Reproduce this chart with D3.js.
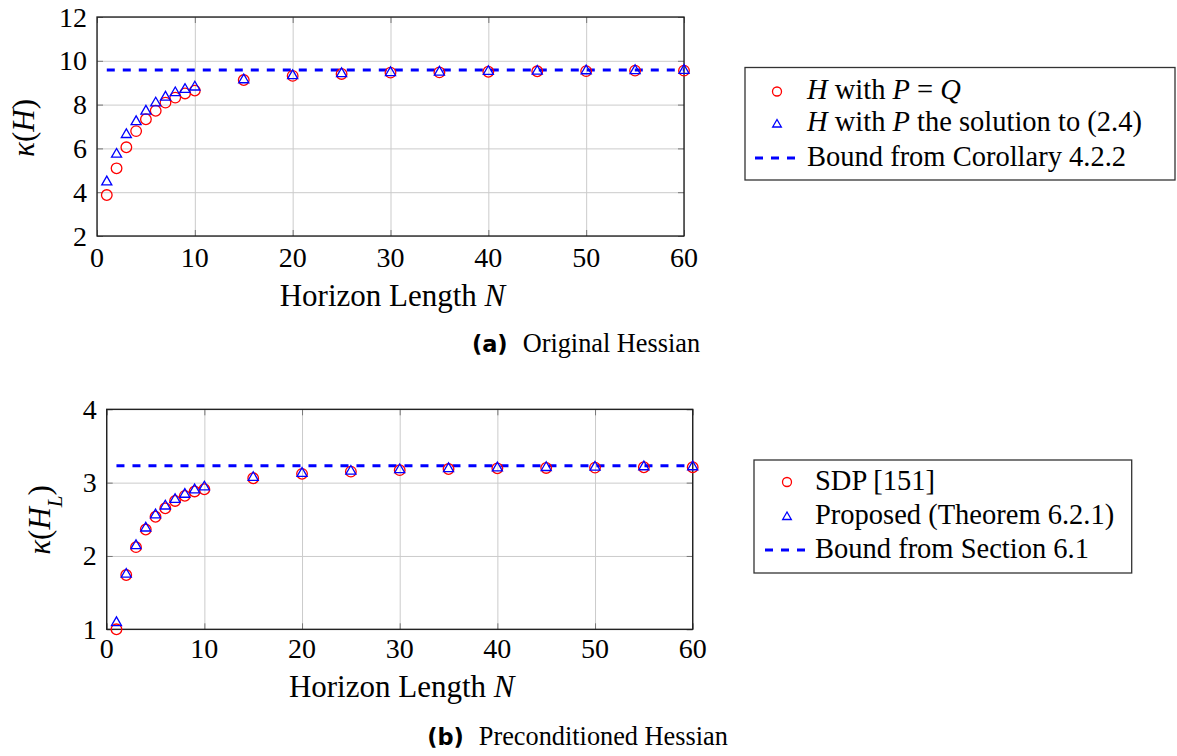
<!DOCTYPE html>
<html><head><meta charset="utf-8">
<script src="https://cdn.jsdelivr.net/npm/d3@7"></script>
<style>
html,body{margin:0;padding:0;background:#fff;}
svg text{font-family:"Liberation Serif","DejaVu Serif",serif;fill:#000;}
</style></head>
<body><svg id="chart" width="1177" height="756"></svg>
<script>
// ---------------- data ----------------
const horizon = [1,2,3,4,5,6,7,8,9,10,15,20,25,30,35,40,45,50,55,60];
const kappaH_PQ  = [3.87,5.09,6.05,6.79,7.33,7.72,8.09,8.32,8.51,8.64,9.12,9.31,9.40,9.46,9.47,9.50,9.52,9.53,9.55,9.55];
const kappaH_Sol = [4.47,5.73,6.63,7.22,7.70,8.07,8.34,8.54,8.69,8.80,9.13,9.32,9.41,9.46,9.48,9.51,9.52,9.54,9.55,9.56];
const boundTop = 9.58;
const kappaHL_SDP  = [1.00,1.74,2.12,2.36,2.535,2.65,2.75,2.82,2.88,2.91,3.06,3.12,3.15,3.17,3.185,3.195,3.20,3.205,3.21,3.21];
const kappaHL_Prop = [1.09,1.75,2.14,2.38,2.56,2.68,2.77,2.84,2.90,2.94,3.07,3.125,3.155,3.175,3.19,3.20,3.205,3.21,3.215,3.215];
const boundBottom = 3.23;
const xTicks = [0,10,20,30,40,50,60];
const yTicksTop = [2,4,6,8,10,12];
const yTicksBottom = [1,2,3,4];
const legendTop = ["H with P = Q","H with P the solution to (2.4)","Bound from Corollary 4.2.2"];
const legendBottom = ["SDP [151]","Proposed (Theorem 6.2.1)","Bound from Section 6.1"];
const captionTop = ["(a)","Original Hessian"];
const captionBottom = ["(b)","Preconditioned Hessian"];

// ---------------- drawing ----------------
const svg = d3.select("#chart");
const RED = "#ff0000", BLUE = "#0000ff";
const TICK_FS = 28, LABEL_FS = 31, LEG_FS = 28.5;

function circleMark(g, x, y, r){
  g.append("circle").attr("cx",x).attr("cy",y).attr("r",r)
   .attr("fill","none").attr("stroke",RED).attr("stroke-width",1.3);
}
function triMark(g, x, y, r){
  const pts = [[x, y - r],[x - r*0.866, y + r/2],[x + r*0.866, y + r/2]];
  g.append("path").attr("d","M"+pts.map(p=>p.join(",")).join("L")+"Z")
   .attr("fill","none").attr("stroke",BLUE).attr("stroke-width",1.3);
}
function richText(sel, parts){
  parts.forEach(p=>{
    const t = sel.append("tspan").text(p[0]);
    if(p[1]) t.attr("font-style","italic");
    if(p[2]) t.attr("baseline-shift", p[2]).attr("font-size", p[3]);
  });
  return sel;
}

function panel(o){
  const x = d3.scaleLinear().domain([0,60]).range([o.x0,o.x1]);
  const y = d3.scaleLinear().domain(o.yDom).range([o.y0,o.y1]);
  const g = svg.append("g");
  const W = o.x1-o.x0, Hh = o.y0-o.y1;
  g.append("g").attr("transform",`translate(0,${o.y0})`)
    .call(d3.axisBottom(x).tickValues(xTicks).tickSize(-Hh).tickFormat(""))
    .call(s=>{s.select(".domain").remove(); s.selectAll("line").attr("stroke","#cbcbcb").attr("stroke-width",1);});
  g.append("g").attr("transform",`translate(${o.x0},0)`)
    .call(d3.axisLeft(y).tickValues(o.yTicks).tickSize(-W).tickFormat(""))
    .call(s=>{s.select(".domain").remove(); s.selectAll("line").attr("stroke","#cbcbcb").attr("stroke-width",1);});
  const tk = 6;
  g.append("g").attr("transform",`translate(0,${o.y0})`)
    .call(d3.axisBottom(x).tickValues(xTicks).tickSize(-tk).tickFormat(""))
    .call(s=>{s.select(".domain").remove(); s.selectAll("line").attr("stroke","#777");});
  g.append("g").attr("transform",`translate(0,${o.y1})`)
    .call(d3.axisTop(x).tickValues(xTicks).tickSize(-tk).tickFormat(""))
    .call(s=>{s.select(".domain").remove(); s.selectAll("line").attr("stroke","#777");});
  g.append("g").attr("transform",`translate(${o.x0},0)`)
    .call(d3.axisLeft(y).tickValues(o.yTicks).tickSize(-tk).tickFormat(""))
    .call(s=>{s.select(".domain").remove(); s.selectAll("line").attr("stroke","#777");});
  g.append("g").attr("transform",`translate(${o.x1},0)`)
    .call(d3.axisRight(y).tickValues(o.yTicks).tickSize(-tk).tickFormat(""))
    .call(s=>{s.select(".domain").remove(); s.selectAll("line").attr("stroke","#777");});
  g.append("rect").attr("x",o.x0).attr("y",o.y1).attr("width",W).attr("height",Hh)
    .attr("fill","none").attr("stroke","#1a1a1a").attr("stroke-width",1.3);
  g.selectAll(".xl").data(xTicks).join("text")
    .attr("x",d=>x(d)).attr("y",o.xLabBase).attr("text-anchor","middle")
    .attr("font-size",TICK_FS).text(d=>d);
  g.selectAll(".yl").data(o.yTicks).join("text")
    .attr("x",o.x0-10).attr("y",d=>y(d)).attr("dy","0.34em").attr("text-anchor","end")
    .attr("font-size",TICK_FS).text(d=>d);
  richText(g.append("text").attr("x",(o.x0+o.x1)/2 + 2).attr("y",o.titleBase)
    .attr("text-anchor","middle").attr("font-size",LABEL_FS),
    [["Horizon Length ",false],["N",true]]);
  const yl = g.append("text").attr("transform",`translate(${o.ylabX},${o.ylabY}) rotate(-90)`)
    .attr("text-anchor","middle").attr("font-size",LABEL_FS);
  richText(yl, o.ylabParts);
  g.append("line").attr("x1",x(horizon[0])).attr("x2",x(horizon[horizon.length-1]))
    .attr("y1",y(o.bound)).attr("y2",y(o.bound))
    .attr("stroke",BLUE).attr("stroke-width",2.8).attr("stroke-dasharray","8,8");
  horizon.forEach((n,i)=>circleMark(g, x(n), y(o.s1[i]), 5.3));
  horizon.forEach((n,i)=>triMark(g, x(n), y(o.s2[i]), 5.8));
  const L = o.leg;
  g.append("rect").attr("x",L.x0).attr("y",L.y0).attr("width",L.x1-L.x0).attr("height",L.y1-L.y0)
    .attr("fill","#fff").attr("stroke","#333").attr("stroke-width",1.3);
  circleMark(g, L.mx, L.rows[0], 4.5);
  triMark(g, L.mx, L.rows[1]+1, 5);
  g.append("line").attr("x1",L.mx-22).attr("x2",L.mx+18).attr("y1",L.rows[2]).attr("y2",L.rows[2])
    .attr("stroke",BLUE).attr("stroke-width",2.8).attr("stroke-dasharray","8,8");
  o.legParts.forEach((parts,i)=>{
    richText(g.append("text").attr("x",L.tx).attr("y",L.rows[i]+7.5).attr("font-size",LEG_FS), parts);
  });
  const cap = g.append("g");
  const c1 = cap.append("text").attr("y",o.capBase).attr("font-size",22.5)
    .attr("font-weight","bold").style("font-family","'DejaVu Sans',sans-serif").text(o.cap[0]);
  const c2 = cap.append("text").attr("y",o.capBase).attr("font-size",26.3).text(o.cap[1]);
  const w1 = c1.node().getComputedTextLength(), w2 = c2.node().getComputedTextLength();
  const gap = 15, tot = w1+gap+w2, sx = o.capCx - tot/2;
  c1.attr("x",sx); c2.attr("x",sx+w1+gap);
}

panel({
  x0:97, x1:684, y0:236, y1:17, yDom:[2,12], yTicks:yTicksTop,
  xLabBase:266.5, titleBase:305.5, ylabX:34, ylabY:128,
  ylabParts:[["κ",true],["(",false],["H",true],[")",false]],
  bound:boundTop, s1:kappaH_PQ, s2:kappaH_Sol,
  leg:{x0:745,x1:1175,y0:67.5,y1:180,mx:777,tx:807,rows:[91.5,123.5,158]},
  legParts:[
    [["H",true],[" with ",false],["P",true],[" = ",false],["Q",true]],
    [["H",true],[" with ",false],["P",true],[" the solution to (2.4)",false]],
    [[legendTop[2],false]]
  ],
  cap:captionTop, capCx:586, capBase:352
});
panel({
  x0:106.7, x1:692.7, y0:629.3, y1:409.3, yDom:[1,4], yTicks:yTicksBottom,
  xLabBase:658, titleBase:696.5, ylabX:50, ylabY:520,
  ylabParts:[["κ",true],["(",false],["H",true],["L",true,"sub","21px"],[")",false]],
  bound:boundBottom, s1:kappaHL_SDP, s2:kappaHL_Prop,
  leg:{x0:754,x1:1131.7,y0:460,y1:573,mx:787,tx:815,rows:[482,516,550]},
  legParts:[[[legendBottom[0],false]],[[legendBottom[1],false]],[[legendBottom[2],false]]],
  cap:captionBottom, capCx:577.5, capBase:745
});
</script></body></html>
